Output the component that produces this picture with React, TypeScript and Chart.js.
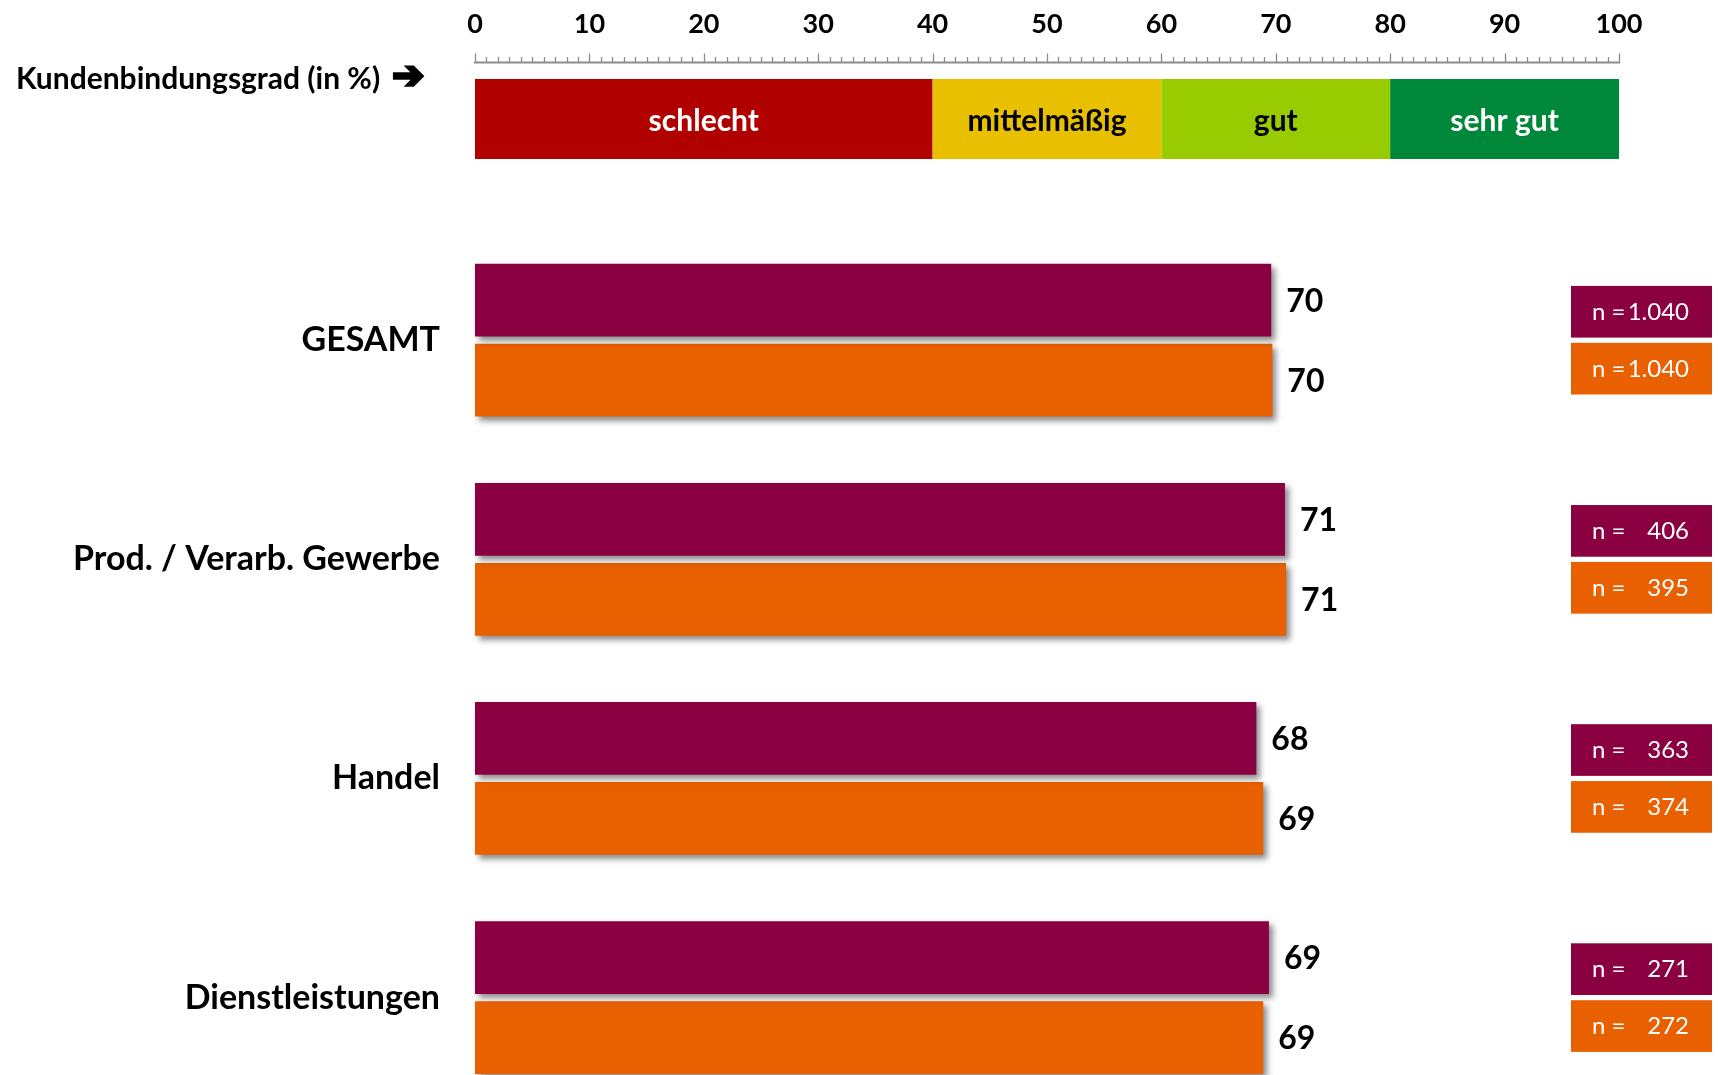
import React, { useEffect, useRef } from 'react';
import { Chart, registerables } from 'chart.js';

Chart.register(...registerables);

// ---- data ----
const categories = ['GESAMT', 'Prod. / Verarb. Gewerbe', 'Handel', 'Dienstleistungen'];
const seriesPurple = [69.6, 70.8, 68.3, 69.4];
const seriesOrange = [69.7, 70.9, 68.9, 68.9];
const nPurple = ['1.040', '406', '363', '271'];
const nOrange = ['1.040', '395', '374', '272'];
const axisTicks = [0, 10, 20, 30, 40, 50, 60, 70, 80, 90, 100];
const bandStarts = [0, 40, 60, 80];
const bandEnds = [40, 60, 80, 100];
const bandLabels = ['schlecht', 'mittelmäßig', 'gut', 'sehr gut'];
const headerLabel = 'Kundenbindungsgrad (in %)';

// ---- styles ----
const PURPLE = '#8A0041';
const ORANGE = '#E86000';
const bandColors = ['#B00000', '#E8C000', '#99CC00', '#00883A'];
const bandTextColors = ['#FFFFFF', '#000000', '#000000', '#FFFFFF'];
const FONT = 'Lato, "Open Sans", sans-serif';

const shadowPlugin = {
  id: 'barShadow',
  beforeDatasetDraw(chart: any) {
    const ctx = chart.ctx;
    ctx.save();
    ctx.shadowColor = 'rgba(0,0,0,0.45)';
    ctx.shadowBlur = 6;
    ctx.shadowOffsetX = 4;
    ctx.shadowOffsetY = 4;
  },
  afterDatasetDraw(chart: any) {
    chart.ctx.restore();
  },
};

const decorPlugin = {
  id: 'decor',
  afterDraw(chart: any) {
    const ctx = chart.ctx;
    const xs = chart.scales.x;
    const ys = chart.scales.y;
    ctx.save();

    // header label with arrow
    ctx.fillStyle = '#000';
    ctx.strokeStyle = '#000';
    ctx.textBaseline = 'middle';
    ctx.textAlign = 'left';
    ctx.font = `bold 30px ${FONT}`;
    ctx.fillText(headerLabel, 16, 79);
    const w = ctx.measureText(headerLabel).width;
    ctx.font = '38px "DejaVu Sans"';
    ctx.lineWidth = 3;
    ctx.lineJoin = 'miter';
    ctx.fillText('➔', 16 + w + 12, 78);
    ctx.strokeText('➔', 16 + w + 12, 78);

    // ruler
    const rulerY = 62.5;
    ctx.strokeStyle = '#8C8C8C';
    ctx.lineWidth = 2;
    ctx.beginPath();
    ctx.moveTo(xs.getPixelForValue(0) - 1, rulerY);
    ctx.lineTo(xs.getPixelForValue(100) + 1, rulerY);
    ctx.stroke();
    ctx.lineWidth = 1.3;
    for (let v = 0; v <= 100; v++) {
      const px = Math.round(xs.getPixelForValue(v)) + 0.5;
      const len = v % 10 === 0 ? 9 : 5.5;
      ctx.beginPath();
      ctx.moveTo(px, rulerY);
      ctx.lineTo(px, rulerY - len);
      ctx.stroke();
    }

    // tick labels
    ctx.fillStyle = '#000';
    ctx.textAlign = 'center';
    ctx.font = `bold 27px ${FONT}`;
    axisTicks.forEach((t) => {
      ctx.fillText(String(t), xs.getPixelForValue(t), 24);
    });

    // bands
    bandStarts.forEach((s, i) => {
      const x0 = xs.getPixelForValue(s);
      const x1 = xs.getPixelForValue(bandEnds[i]);
      ctx.fillStyle = bandColors[i];
      ctx.fillRect(x0, 79, x1 - x0, 80);
      ctx.fillStyle = bandTextColors[i];
      ctx.font = `bold 30px ${FONT}`;
      ctx.fillText(bandLabels[i], (x0 + x1) / 2, 121);
    });

    // value labels
    ctx.textAlign = 'left';
    ctx.fillStyle = '#000';
    ctx.font = `bold 32px ${FONT}`;
    chart.data.datasets.forEach((ds: any, di: number) => {
      const meta = chart.getDatasetMeta(di);
      meta.data.forEach((bar: any, i: number) => {
        ctx.fillText(String(Math.round(ds.data[i])), bar.x + 15, bar.y + 1);
      });
    });

    // n boxes
    const boxL = 1571;
    const boxR = 1712;
    categories.forEach((_, i) => {
      const cy = ys.getPixelForValue(i);
      const boxes = [
        { top: cy - 54.3, color: PURPLE, n: nPurple[i] },
        { top: cy + 2.6, color: ORANGE, n: nOrange[i] },
      ];
      boxes.forEach((b) => {
        ctx.fillStyle = b.color;
        ctx.fillRect(boxL, b.top, boxR - boxL, 51.7);
        ctx.fillStyle = '#FFFFFF';
        ctx.font = `24px ${FONT}`;
        ctx.textAlign = 'left';
        ctx.fillText('n =', boxL + 21, b.top + 26);
        ctx.textAlign = 'right';
        ctx.fillText(b.n, boxR - 23, b.top + 26);
      });
    });

    ctx.restore();
  },
};

export default function App() {
  const canvasRef = useRef<HTMLCanvasElement | null>(null);

  useEffect(() => {
    document.body.style.margin = '0';
    const canvas = canvasRef.current;
    if (!canvas) return;
    const chart = new Chart(canvas, {
      type: 'bar',
      data: {
        labels: categories,
        datasets: [
          { label: 'A', data: seriesPurple, backgroundColor: PURPLE, clip: false as any },
          { label: 'B', data: seriesOrange, backgroundColor: ORANGE, clip: false as any },
        ],
      },
      options: {
        indexAxis: 'y',
        responsive: false,
        maintainAspectRatio: false,
        animation: false,
        devicePixelRatio: 1,
        categoryPercentage: 0.7303,
        barPercentage: 0.909,
        layout: { padding: { top: 340.2, bottom: 77.4, left: 0, right: 99 } },
        plugins: {
          legend: { display: false },
          tooltip: { enabled: false },
        },
        scales: {
          x: { type: 'linear', min: 0, max: 100, display: false },
          y: {
            type: 'category',
            offset: false,
            grid: { display: false, drawTicks: false },
            border: { display: false },
            ticks: {
              color: '#000',
              padding: 35,
              font: { family: FONT, size: 34, weight: 'bold' },
            },
            afterFit: (scale: any) => {
              scale.width = 475;
            },
          },
        },
      } as any,
      plugins: [shadowPlugin, decorPlugin],
    });
    return () => chart.destroy();
  }, []);

  return (
    <div style={{ position: 'absolute', left: 0, top: 0, width: 1718, height: 1075, background: '#fff' }}>
      <canvas ref={canvasRef} width={1718} height={1075} style={{ width: 1718, height: 1075, display: 'block' }} />
    </div>
  );
}
